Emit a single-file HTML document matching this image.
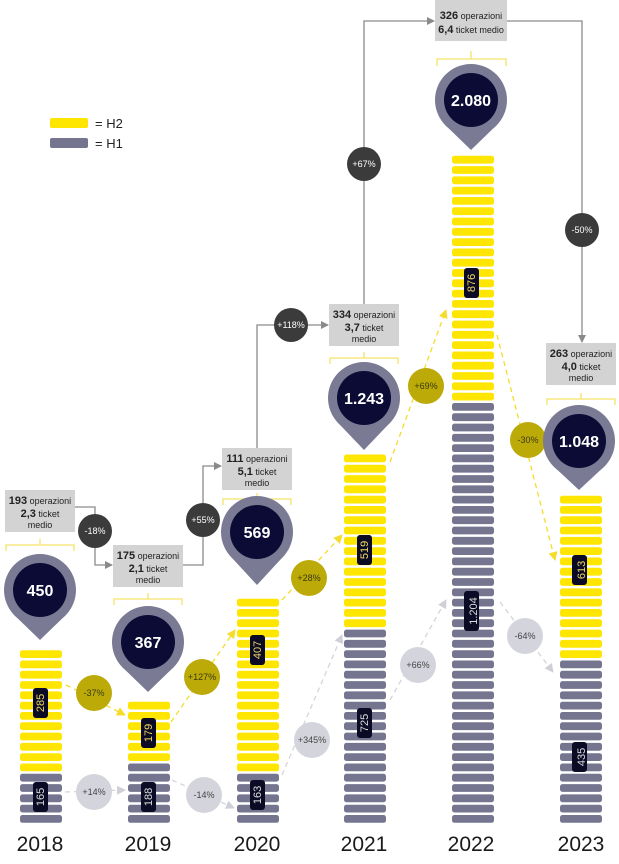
<!DOCTYPE html>
<html><head><meta charset="utf-8"><style>
html,body{margin:0;padding:0;background:#fff;}
svg{display:block;font-family:"Liberation Sans","DejaVu Sans",sans-serif;}
</style></head><body>
<svg id="s" width="619" height="864" viewBox="0 0 619 864" xmlns="http://www.w3.org/2000/svg">
<defs>
<marker id="ag" markerWidth="8" markerHeight="8" refX="7" refY="4" orient="auto" markerUnits="userSpaceOnUse"><path d="M0,0 L8,4 L0,8z" fill="#8a8a8a"/></marker>
<marker id="ay" markerWidth="9" markerHeight="9" refX="8" refY="4.5" orient="auto" markerUnits="userSpaceOnUse"><path d="M0,0 L9,4.5 L0,9z" fill="#f5dc2a"/></marker>
<marker id="al" markerWidth="9" markerHeight="9" refX="8" refY="4.5" orient="auto" markerUnits="userSpaceOnUse"><path d="M0,0 L9,4.5 L0,9z" fill="#cfcfd8"/></marker>
</defs>
<g id="bars"></g>

<!-- legend -->
<rect x="50" y="118" width="38" height="10" rx="2" fill="#ffe600"/>
<text x="95" y="128" font-size="13" fill="#222">= H2</text>
<rect x="50" y="138" width="38" height="10" rx="2" fill="#757590"/>
<text x="95" y="148" font-size="13" fill="#222">= H1</text>

<!-- connectors -->
<g fill="none" stroke="#8a8a8a" stroke-width="1.3">
<path d="M75,507 H95 V565 H112" marker-end="url(#ag)"/>
<path d="M183,565 H203 V466 H221" marker-end="url(#ag)"/>
<path d="M257,448 V325 H328" marker-end="url(#ag)"/>
<path d="M364,304 V21 H434" marker-end="url(#ag)"/>
<path d="M507,21 H582 V342" marker-end="url(#ag)"/>
</g>
<g font-size="9" fill="#fff" text-anchor="middle">
<circle cx="95" cy="531" r="17" fill="#3b3b3b"/><text x="95" y="534">-18%</text>
<circle cx="203" cy="520" r="17" fill="#3b3b3b"/><text x="203" y="523">+55%</text>
<circle cx="291" cy="325" r="17" fill="#3b3b3b"/><text x="291" y="328">+118%</text>
<circle cx="364" cy="164" r="17" fill="#3b3b3b"/><text x="364" y="167">+67%</text>
<circle cx="582" cy="230" r="17" fill="#3b3b3b"/><text x="582" y="233">-50%</text>
</g>

<!-- dashed yellow -->
<g fill="none" stroke="#f5dc2a" stroke-width="1.3" stroke-dasharray="5,4">
<path d="M66,685 L125,715" marker-end="url(#ay)"/>
<path d="M171,722 L235,630" marker-end="url(#ay)"/>
<path d="M282,600 L342,535" marker-end="url(#ay)"/>
<path d="M390,462 L446,310" marker-end="url(#ay)"/>
<path d="M497,335 L555,560" marker-end="url(#ay)"/>
</g>
<g fill="none" stroke="#d4d4dc" stroke-width="1.3" stroke-dasharray="5,4">
<path d="M65,792 L125,790" marker-end="url(#al)"/>
<path d="M172,780 L234,808" marker-end="url(#al)"/>
<path d="M282,775 L342,635" marker-end="url(#al)"/>
<path d="M390,700 L446,600" marker-end="url(#al)"/>
<path d="M500,602 L553,672" marker-end="url(#al)"/>
</g>
<g font-size="9" text-anchor="middle">
<circle cx="94" cy="693" r="18" fill="#bcaa08"/><text x="94" y="696" fill="#3a3a10">-37%</text>
<circle cx="202" cy="677" r="18" fill="#bcaa08"/><text x="202" y="680" fill="#3a3a10">+127%</text>
<circle cx="309" cy="578" r="18" fill="#bcaa08"/><text x="309" y="581" fill="#3a3a10">+28%</text>
<circle cx="426" cy="386" r="18" fill="#bcaa08"/><text x="426" y="389" fill="#3a3a10">+69%</text>
<circle cx="528" cy="440" r="18" fill="#bcaa08"/><text x="528" y="443" fill="#3a3a10">-30%</text>
<circle cx="94" cy="792" r="18" fill="#d4d4dc"/><text x="94" y="795" fill="#444">+14%</text>
<circle cx="204" cy="795" r="18" fill="#d4d4dc"/><text x="204" y="798" fill="#444">-14%</text>
<circle cx="312" cy="740" r="18" fill="#d4d4dc"/><text x="312" y="743" fill="#444">+345%</text>
<circle cx="418" cy="665" r="18" fill="#d4d4dc"/><text x="418" y="668" fill="#444">+66%</text>
<circle cx="525" cy="636" r="18" fill="#d4d4dc"/><text x="525" y="639" fill="#444">-64%</text>
</g>

<!-- boxes -->
<g font-size="9" fill="#222" text-anchor="middle">
<rect x="5" y="490" width="70" height="42" fill="#d3d3d3"/>
<text x="40" y="504"><tspan font-weight="bold" font-size="11">193</tspan> operazioni</text>
<text x="40" y="517"><tspan font-weight="bold" font-size="11">2,3</tspan> ticket</text>
<text x="40" y="528">medio</text>
<rect x="113" y="545" width="70" height="42" fill="#d3d3d3"/>
<text x="148" y="559"><tspan font-weight="bold" font-size="11">175</tspan> operazioni</text>
<text x="148" y="572"><tspan font-weight="bold" font-size="11">2,1</tspan> ticket</text>
<text x="148" y="583">medio</text>
<rect x="222" y="448" width="70" height="42" fill="#d3d3d3"/>
<text x="257" y="462"><tspan font-weight="bold" font-size="11">111</tspan> operazioni</text>
<text x="257" y="475"><tspan font-weight="bold" font-size="11">5,1</tspan> ticket</text>
<text x="257" y="486">medio</text>
<rect x="329" y="304" width="70" height="42" fill="#d3d3d3"/>
<text x="364" y="318"><tspan font-weight="bold" font-size="11">334</tspan> operazioni</text>
<text x="364" y="331"><tspan font-weight="bold" font-size="11">3,7</tspan> ticket</text>
<text x="364" y="342">medio</text>
<rect x="435" y="0" width="72" height="41" fill="#d3d3d3"/>
<text x="471" y="19"><tspan font-weight="bold" font-size="11">326</tspan> operazioni</text>
<text x="471" y="33"><tspan font-weight="bold" font-size="11">6,4</tspan> ticket medio</text>
<rect x="546" y="343" width="70" height="42" fill="#d3d3d3"/>
<text x="581" y="357"><tspan font-weight="bold" font-size="11">263</tspan> operazioni</text>
<text x="581" y="370"><tspan font-weight="bold" font-size="11">4,0</tspan> ticket</text>
<text x="581" y="381">medio</text>
</g>
<g fill="none" stroke="#f5e26a" stroke-width="1.3">
<path d="M6,551 V545 H74 V551 M40,545 V539"/>
<path d="M114,605 V599 H182 V605 M148,599 V593"/>
<path d="M223,505 V499 H291 V505 M257,499 V493"/>
<path d="M330,364 V358 H398 V364 M364,358 V352"/>
<path d="M437,66 V59 H506 V66 M471,59 V51"/>
<path d="M547,405 V399 H615 V405 M581,399 V393"/>
</g>

<g id="pins"></g>
<g font-size="16" fill="#fff" text-anchor="middle" font-weight="bold">
<text x="40" y="596">450</text>
<text x="148" y="648">367</text>
<text x="257" y="538">569</text>
<text x="364" y="404">1.243</text>
<text x="471" y="106">2.080</text>
<text x="579" y="447">1.048</text>
</g>

<g id="labels"></g>
<g font-size="11" text-anchor="middle">
<text transform="translate(40,703) rotate(-90)" y="4" fill="#f0d860">285</text>
<text transform="translate(40,797) rotate(-90)" y="4" fill="#ddd">165</text>
<text transform="translate(148,733) rotate(-90)" y="4" fill="#f0d860">179</text>
<text transform="translate(148,797) rotate(-90)" y="4" fill="#ddd">188</text>
<text transform="translate(257,650) rotate(-90)" y="4" fill="#f0d860">407</text>
<text transform="translate(257,795) rotate(-90)" y="4" fill="#ddd">163</text>
<text transform="translate(364,550) rotate(-90)" y="4" fill="#f0d860">519</text>
<text transform="translate(364,723) rotate(-90)" y="4" fill="#ddd">725</text>
<text transform="translate(471,283) rotate(-90)" y="4" fill="#f0d860">876</text>
<text transform="translate(473,611) rotate(-90)" y="4" fill="#ddd">1.204</text>
<text transform="translate(581,570) rotate(-90)" y="4" fill="#f0d860">613</text>
<text transform="translate(581,757) rotate(-90)" y="4" fill="#ddd">435</text>
</g>

<g font-size="21" fill="#1a1a1a" text-anchor="middle">
<text x="40" y="851">2018</text>
<text x="148" y="851">2019</text>
<text x="257" y="851">2020</text>
<text x="364" y="851">2021</text>
<text x="471" y="851">2022</text>
<text x="581" y="851">2023</text>
</g>
</svg>
<script>
var NS="http://www.w3.org/2000/svg";
function el(p,t,a){var e=document.createElementNS(NS,t);for(var k in a)e.setAttribute(k,a[k]);p.appendChild(e);return e;}
var bars=document.getElementById("bars");
var cols=[[20,12,5],[128,6,6],[237,17,5],[344,17,19],[452,24,41],[560,16,16]];
cols.forEach(function(c){
 var tot=c[1]+c[2];
 for(var i=0;i<tot;i++){
  var y=815-i*10.3;
  el(bars,"rect",{x:c[0],y:y,width:42,height:7.8,rx:2.5,fill:i<c[2]?"#757590":"#ffe600"});
 }
});
var pins=document.getElementById("pins");
[[40,590,640],[148,642,692],[257,532,585],[364,398,450],[471,100,150],[579,441,490]].forEach(function(p){
 var cx=p[0],cy=p[1],ty=p[2],R=36;
 el(pins,"path",{d:"M"+(cx-R*0.72)+","+(cy+R*0.69)+" L"+cx+","+ty+" L"+(cx+R*0.72)+","+(cy+R*0.69)+"Z",fill:"#7a7a94"});
 el(pins,"circle",{cx:cx,cy:cy,r:R,fill:"#7a7a94"});
 el(pins,"circle",{cx:cx,cy:cy,r:27,fill:"#0b0b35"});
});
var lab=document.getElementById("labels");
[[40,703,30],[40,797,30],[148,733,30],[148,797,30],[257,650,30],[257,795,30],[364,550,30],[364,723,30],[471,283,30],[471,611,40],[579,570,30],[579,757,30]].forEach(function(l){
 el(lab,"rect",{x:l[0]-7,y:l[1]-l[2]/2,width:15,height:l[2],rx:3,fill:"#0b0b25"});
});
</script>
</body></html>
